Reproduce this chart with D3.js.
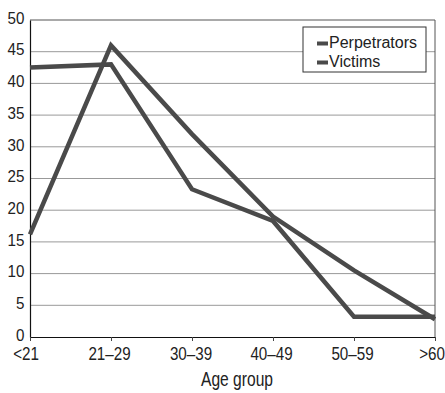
<!DOCTYPE html>
<html>
<head>
<meta charset="utf-8">
<script src="https://cdn.jsdelivr.net/npm/d3@7"></script>
<style>
  html, body { margin: 0; padding: 0; background: #fff; }
  svg { display: block; }
</style>
</head>
<body>
<svg id="chart" width="445" height="393"></svg>
<script>
const categories = ["<21", "21\u201329", "30\u201339", "40\u201349", "50\u201359", ">60"];
const perpetrators = [16.2, 46, 32, 19, 10.5, 2.8];
const victims = [42.5, 43, 23.3, 18.3, 3.2, 3.2];
const seriesNames = ["Perpetrators", "Victims"];
const yTicks = [0, 5, 10, 15, 20, 25, 30, 35, 40, 45, 50];
const xTitle = "Age group";

(function () {
const svg = d3.select("#chart");
const mLeft = 30, mRight = 435, mTop = 20, mBottom = 337;
const lineColor = "#4a4a4a";
const font = "'Liberation Sans', Arial, sans-serif";
const squeeze = 0.8;

const x = d3.scalePoint().domain(categories).range([mLeft, mRight]);
const y = d3.scaleLinear().domain([0, 50]).range([mBottom, mTop]);

// gridlines
svg.append("g")
  .selectAll("line").data(yTicks.filter(d => d > 0)).join("line")
  .attr("x1", mLeft).attr("x2", mRight)
  .attr("y1", d => y(d)).attr("y2", d => y(d))
  .attr("stroke", d => d === 50 ? "#555" : "#999").attr("stroke-width", 1);

// right border
svg.append("line").attr("x1", mRight).attr("x2", mRight).attr("y1", mTop).attr("y2", mBottom)
  .attr("stroke", "#555").attr("stroke-width", 1);

// y axis
const yAxis = svg.append("g").attr("transform", `translate(${mLeft},0)`)
  .call(d3.axisLeft(y).tickValues(yTicks).tickSize(0).tickPadding(6));
yAxis.select(".domain").attr("stroke", "#111").attr("stroke-width", 1.2);
yAxis.selectAll("text").attr("font-family", font).attr("font-size", 16.5).attr("fill", "#222")
  .attr("y", -2)
  .attr("transform", "scale(0.92,1)");

// x axis
const xAxis = svg.append("g").attr("transform", `translate(0,${mBottom})`)
  .call(d3.axisBottom(x).tickSize(4).tickPadding(6).tickSizeOuter(0));
xAxis.select(".domain").attr("stroke", "#111").attr("stroke-width", 1.2);
xAxis.selectAll(".tick line").attr("stroke", "#444");
const shift = [-4.5, -2, -1.5, -2, -2, -3.5];
xAxis.selectAll("text").attr("font-family", font).attr("font-size", 19).attr("fill", "#222")
  .attr("x", (d, i) => shift[i] / squeeze)
  .attr("transform", `scale(${squeeze},1)`);

// x title
svg.append("text").attr("transform", `translate(237,386) scale(${squeeze},1)`)
  .attr("text-anchor", "middle").attr("font-family", font).attr("font-size", 19.5)
  .attr("fill", "#222").text(xTitle);

// lines
const line = d3.line().x((d, i) => x(categories[i])).y(d => y(d));
[victims, perpetrators].forEach(s => {
  svg.append("path").datum(s).attr("d", line)
    .attr("fill", "none").attr("stroke", lineColor).attr("stroke-width", 4.5)
    .attr("stroke-linejoin", "miter").attr("stroke-miterlimit", 10);
});

// legend
const lg = svg.append("g");
lg.append("rect").attr("x", 303).attr("y", 27).attr("width", 123).attr("height", 45)
  .attr("fill", "#fff").attr("stroke", "#333").attr("stroke-width", 1);
seriesNames.forEach((n, i) => {
  const cy = 43.5 + i * 19;
  lg.append("rect").attr("x", 317).attr("y", cy - 2).attr("width", 11).attr("height", 4)
    .attr("fill", lineColor);
  lg.append("text").attr("x", 329).attr("y", cy + 4)
    .attr("font-family", font).attr("font-size", 16).attr("fill", "#222").text(n);
});
})();
</script>
</body>
</html>
